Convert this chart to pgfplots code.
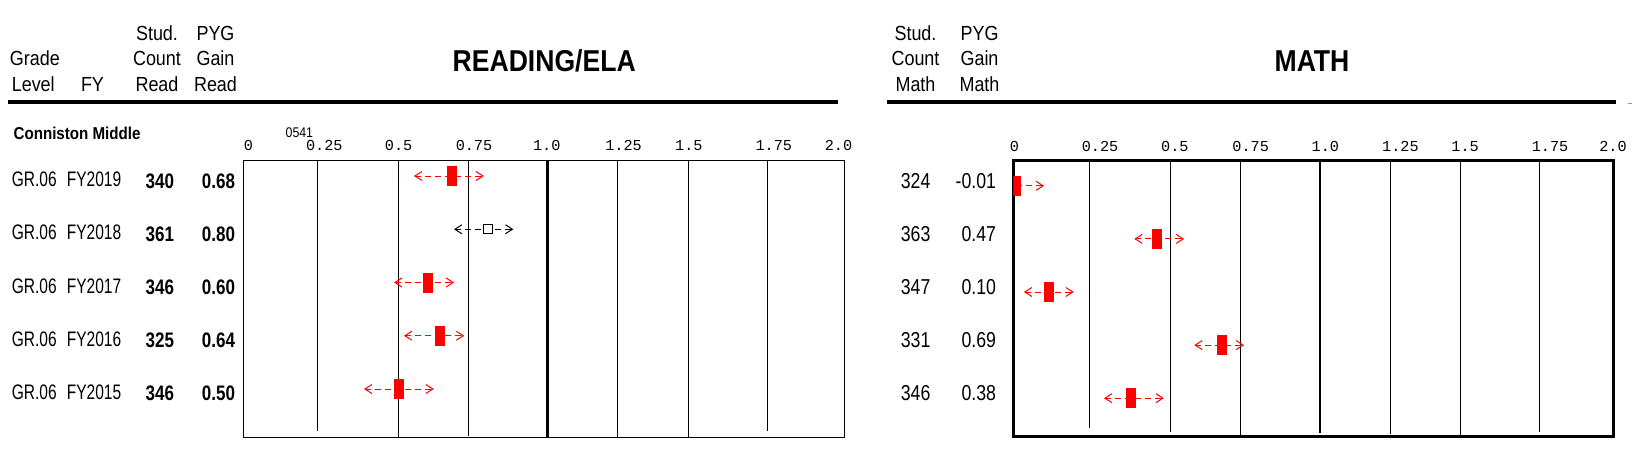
\documentclass[border=0pt]{standalone}
\usepackage{fontspec}
\usepackage{pgfplots}
\usepackage{pgfplotstable}
\pgfplotsset{compat=1.18}
\setmainfont{Liberation Sans}
\newfontfamily\hdrf[FakeStretch=0.88]{Liberation Sans}
\newfontfamily\rowf[FakeStretch=0.74]{Liberation Sans}
\newfontfamily\numf[FakeStretch=0.81]{Liberation Sans}
\newfontfamily\mnumf[FakeStretch=0.82]{Liberation Sans}
\newfontfamily\tickf{Liberation Mono}
\newcommand\hsz{\hdrf\fontsize{10.2}{12}\selectfont}
\newcommand\rsz{\rowf\fontsize{10.5}{12}\selectfont}
\newcommand\nsz{\numf\fontsize{10.5}{12}\selectfont\bfseries}
\newcommand\msz{\mnumf\fontsize{10.8}{12}\selectfont}
\newcommand\tsz{\tickf\fontsize{7.6}{9}\selectfont}

\pgfdeclareplotmark{lchev}{%
  \pgfpathmoveto{\pgfqpoint{3.5pt}{2.25pt}}%
  \pgfpathlineto{\pgfqpoint{0pt}{0pt}}%
  \pgfpathlineto{\pgfqpoint{3.5pt}{-2.25pt}}%
  \pgfusepathqstroke}
\pgfdeclareplotmark{rchev}{%
  \pgfpathmoveto{\pgfqpoint{-3.5pt}{2.25pt}}%
  \pgfpathlineto{\pgfqpoint{0pt}{0pt}}%
  \pgfpathlineto{\pgfqpoint{-3.5pt}{-2.25pt}}%
  \pgfusepathqstroke}

% reading: row (negative = from top), value, CI low, CI high
\pgfplotstableread{
row val lo hi
-1 0.68 0.555 0.783
-3 0.60 0.488 0.683
-4 0.64 0.521 0.717
-5 0.50 0.387 0.615
}\readsig
\pgfplotstableread{
row val lo hi
-2 0.80 0.689 0.882
}\readns
\pgfplotstableread{
row val lo hi
-2 0.47 0.395 0.558
-3 0.10 0.0194 0.1827
-4 0.69 0.599 0.762
-5 0.38 0.292 0.489
}\mathsig
\pgfplotstableread{
row val hi
-1 -0.01 0.0816
}\mathfirst

\begin{document}
\begin{tikzpicture}
\useasboundingbox (0,0) rectangle (816pt,-236pt);
\begin{scope}[x=0.5pt,y=-0.5pt,every node/.style={inner sep=0pt,outer sep=0pt}]
% headers reading
\node[anchor=base west,font=\hsz] at (10,65) {Grade};
\node[anchor=base west,font=\hsz] at (11.8,91) {Level};
\node[anchor=base,font=\hsz] at (92.5,91) {FY};
\node[anchor=base,font=\hsz] at (157,40.7) {Stud.};
\node[anchor=base,font=\hsz] at (157,65) {Count};
\node[anchor=base,font=\hsz] at (157,91) {Read};
\node[anchor=base,font=\hsz] at (215.5,40.5) {PYG};
\node[anchor=base,font=\hsz] at (215.5,65) {Gain};
\node[anchor=base,font=\hsz] at (215.5,91) {Read};
% headers math
\node[anchor=base,font=\hsz] at (915.5,40.7) {Stud.};
\node[anchor=base,font=\hsz] at (915.5,65) {Count};
\node[anchor=base,font=\hsz] at (915.5,91) {Math};
\node[anchor=base,font=\hsz] at (979.5,40.5) {PYG};
\node[anchor=base,font=\hsz] at (979.5,65) {Gain};
\node[anchor=base,font=\hsz] at (979.5,91) {Math};
% titles
\node[anchor=base,font=\hdrf\fontsize{15.1}{18}\selectfont\bfseries] at (544.2,71.7) {READING/ELA};
\node[anchor=base,font=\hdrf\fontsize{15.1}{18}\selectfont\bfseries] at (1312,71.7) {MATH};
% rules
\draw[line width=1.9pt] (8,102) -- (837.7,102);
\draw[line width=1.9pt] (886.7,102) -- (1616,102);
\draw[line width=0.5pt,black!40] (1628,103.5) -- (1632,103.5);
% school
\node[anchor=base west,font=\hdrf\fontsize{8.6}{10}\selectfont\bfseries] at (13.6,139) {Conniston Middle};
\node[anchor=base,font=\hdrf\fontsize{7}{8}\selectfont] at (299.4,137.7) {0541};
% rows
\foreach \k/\fy/\rc/\rg/\mc/\mg in {0/FY2019/340/0.68/324/-0.01, 1/FY2018/361/0.80/363/0.47, 2/FY2017/346/0.60/347/0.10, 3/FY2016/325/0.64/331/0.69, 4/FY2015/346/0.50/346/0.38}{
  \node[anchor=base west,font=\rsz] at (11.8,186.7+53.15*\k) {GR.06};
  \node[anchor=base west,font=\rsz] at (66.8,186.7+53.15*\k) {\fy};
  \node[anchor=base east,font=\nsz] at (174,188.3+53.1*\k) {\rc};
  \node[anchor=base east,font=\nsz] at (235,188.3+53.1*\k) {\rg};
  \node[anchor=base east,font=\msz] at (930.4,188.3+53.1*\k) {\mc};
  \node[anchor=base east,font=\msz] at (996,188.3+53.1*\k) {\mg};
}
\end{scope}

% ---------------- READING axis ----------------
\begin{axis}[at={(121.65pt,-218.65pt)}, anchor=south west, scale only axis,
  width=300.6pt, height=138.3pt,
  xmin=-0.0211, xmax=1.9963, ymin=-5.907, ymax=-0.7127,
  ytick=\empty,
  xtick={-0.004,0.2507,0.5,0.753,0.9973,1.255,1.474,1.759,1.976},
  xticklabels={0,0.25,0.5,0.75,1.0,1.25,1.5,1.75,2.0},
  xticklabel pos=upper, major tick length=0pt,
  xticklabel style={font=\tsz, anchor=base, yshift=5pt},
  axis line style={line width=0.7pt},
  clip marker paths=true, unbounded coords=jump]
\addplot[black, line width=0.5pt, mark=none] coordinates {
 (0.228,-0.7127) (0.228,-5.783) (nan,0)
 (0.5,-0.7127) (0.5,-5.907) (nan,0)
 (0.7346,-0.7127) (0.7346,-5.877) (nan,0)
 (1.235,-0.7127) (1.235,-5.907) (nan,0)
 (1.4725,-0.7127) (1.4725,-5.907) (nan,0)
 (1.738,-0.7127) (1.738,-5.783)};
\addplot[black, line width=1.5pt, mark=none] coordinates {(1.0,-0.7127) (1.0,-5.907)};
% CI dashes
\addplot[red, line width=0.5pt, dash pattern=on 3pt off 2pt, mark=none] coordinates {
 (0.555,-1) (0.783,-1) (nan,0)
 (0.488,-3) (0.683,-3) (nan,0)
 (0.521,-4) (0.717,-4) (nan,0)
 (0.387,-5) (0.615,-5)};
\addplot[black, line width=0.5pt, dash pattern=on 3pt off 2pt, mark=none] coordinates {
 (0.689,-2) (0.882,-2)};
\addplot[red, only marks, mark=lchev, line width=0.5pt] table[x=lo,y=row] {\readsig};
\addplot[red, only marks, mark=rchev, line width=0.5pt] table[x=hi,y=row] {\readsig};
\addplot[black, only marks, mark=lchev, line width=0.5pt] table[x=lo,y=row] {\readns};
\addplot[black, only marks, mark=rchev, line width=0.5pt] table[x=hi,y=row] {\readns};
\addplot[red, only marks, mark=|, mark size=5pt, line width=5pt] table[x=val,y=row] {\readsig};
\addplot[black, only marks, mark=square*, mark size=2.2pt, line width=0.5pt, fill=white] table[x=val,y=row] {\readns};
\end{axis}

% ---------------- MATH axis ----------------
\begin{axis}[at={(506.65pt,-218pt)}, anchor=south west, scale only axis,
  width=300.25pt, height=138pt,
  xmin=-0.0197, xmax=2.0228, ymin=-5.712, ymax=-0.514,
  ytick=\empty,
  xtick={-0.0163,0.2755,0.530,0.7878,1.0415,1.297,1.517,1.806,2.02},
  xticklabels={0,0.25,0.5,0.75,1.0,1.25,1.5,1.75,2.0},
  xticklabel pos=upper, major tick length=0pt,
  xticklabel style={font=\tsz, anchor=base, yshift=4.15pt},
  axis line style={line width=1.5pt},
  clip marker paths=true, unbounded coords=jump]
\addplot[black, line width=0.5pt, mark=none] coordinates {
 (0.2398,-0.514) (0.2398,-5.561) (nan,0)
 (0.5153,-0.514) (0.5153,-5.631) (nan,0)
 (0.7537,-0.514) (0.7537,-5.712) (nan,0)
 (1.2626,-0.514) (1.2626,-5.674) (nan,0)
 (1.5007,-0.514) (1.5007,-5.712) (nan,0)
 (1.770,-0.514) (1.770,-5.631)};
\addplot[black, line width=1.2pt, mark=none] coordinates {(1.0228,-0.557) (1.0228,-5.650)};
\addplot[red, line width=0.5pt, dash pattern=on 3pt off 2pt, mark=none] coordinates {
 (-0.01,-1) (0.0816,-1) (nan,0)
 (0.395,-2) (0.558,-2) (nan,0)
 (0.0194,-3) (0.1827,-3) (nan,0)
 (0.599,-4) (0.762,-4) (nan,0)
 (0.292,-5) (0.489,-5)};
\addplot[red, only marks, mark=lchev, line width=0.5pt] table[x=lo,y=row] {\mathsig};
\addplot[red, only marks, mark=rchev, line width=0.5pt] table[x=hi,y=row] {\mathsig};
\addplot[red, only marks, mark=rchev, line width=0.5pt] table[x=hi,y=row] {\mathfirst};
\addplot[red, only marks, mark=|, mark size=5pt, line width=5pt] table[x=val,y=row] {\mathsig};
\addplot[red, only marks, mark=|, mark size=5pt, line width=5pt] table[x=val,y=row] {\mathfirst};
\end{axis}
\end{tikzpicture}
\end{document}
